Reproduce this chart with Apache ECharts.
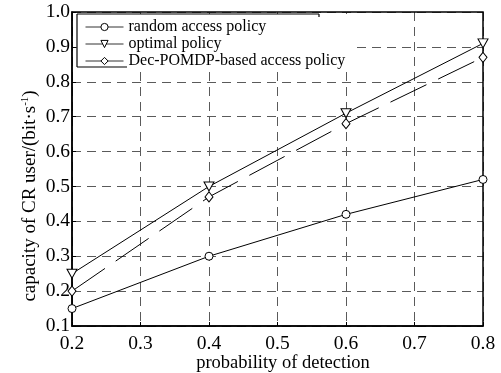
<!DOCTYPE html>
<html>
<head>
<meta charset="utf-8">
<script src="https://cdn.jsdelivr.net/npm/echarts@6/dist/echarts.min.js"></script>
<style>
html,body{margin:0;padding:0;background:#fff;}
#chart{width:501px;height:373px;}
</style>
</head>
<body>
<div id="chart"></div>
<script>
var xValues = [0.2, 0.4, 0.6, 0.8];
var randomPolicy = [0.15, 0.30, 0.42, 0.52];
var optimalPolicy = [0.25, 0.50, 0.71, 0.91];
var decPolicy = [0.20, 0.47, 0.68, 0.87];
var seriesNames = ['random access policy', 'optimal policy', 'Dec-POMDP-based access policy'];
var xAxisTitle = 'probability of detection';
var yAxisTitle = 'capacity of CR user/(bit·s';

function pairs(vals) { return xValues.map(function (x, i) { return [x, vals[i]]; }); }

var FONT = 'Liberation Serif';
var chart = echarts.init(document.getElementById('chart'), null, {renderer: 'canvas'});
var gridStyle = {show: true, lineStyle: {color: '#5a5a5a', type: [9, 6], width: 1}};
var option = {
  animation: false,
  backgroundColor: '#fff',
  grid: {left: 72, right: 18, top: 12, bottom: 47, show: true, borderColor: '#000', borderWidth: 1.5, z: 5,
    outerBoundsMode: 'none', containLabel: false},
  xAxis: [{
    type: 'value', min: 0.2, max: 0.8, interval: 0.1,
    name: xAxisTitle, nameLocation: 'middle', nameGap: 28, nameMoveOverlap: false,
    nameTextStyle: {fontFamily: FONT, fontSize: 18.5, color: '#000', padding: [0, 0, 0, 11]},
    axisLine: {show: true, onZero: false, lineStyle: {color: '#000', width: 1.5}},
    axisTick: {show: true, inside: true, length: 4, lineStyle: {color: '#000'}},
    axisLabel: {fontFamily: FONT, fontSize: 19.5, color: '#000', margin: 8,
      formatter: function (v) { return v.toFixed(1); }},
    splitLine: gridStyle
  }],
  yAxis: [{
    type: 'value', min: 0.1, max: 1.0, interval: 0.1,
    axisLine: {show: true, onZero: false, lineStyle: {color: '#000', width: 1.5}},
    axisTick: {show: true, inside: true, length: 4, lineStyle: {color: '#000'}},
    axisLabel: {fontFamily: FONT, fontSize: 19.5, color: '#000', margin: 2,
      formatter: function (v) { return v.toFixed(1); }},
    splitLine: gridStyle
  }],
  legend: {
    orient: 'vertical', left: 77, top: 14,
    padding: [5, 9, 0, 8],
    backgroundColor: '#fff',
    itemWidth: 38, itemHeight: 9, itemGap: 1,
    textStyle: {fontFamily: FONT, fontSize: 16, color: '#000', lineHeight: 16},
    lineStyle: {type: 'solid', width: 1, color: '#333'},
    itemStyle: {color: '#fff', borderColor: '#000', borderWidth: 1},
    data: seriesNames,
    z: 20
  },
  graphic: [
    {type: 'line', z: 100, shape: {x1: 77, y1: 14, x2: 77, y2: 67}, style: {stroke: '#000', lineWidth: 1.2}},
    {type: 'line', z: 100, shape: {x1: 77, y1: 14, x2: 319, y2: 14}, style: {stroke: '#000', lineWidth: 1.2}},
    {type: 'line', z: 100, shape: {x1: 319, y1: 14, x2: 319, y2: 17}, style: {stroke: '#000', lineWidth: 1.2}},
    {type: 'line', z: 100, shape: {x1: 77, y1: 67, x2: 127, y2: 67}, style: {stroke: '#000', lineWidth: 1.2}},
    {type: 'text', z: 100, x: 30, y: 196, rotation: Math.PI / 2,
      style: {text: yAxisTitle + '{sup|-1}' + ')', fontFamily: FONT, fontSize: 19, fill: '#000',
        align: 'center', verticalAlign: 'middle', lineHeight: 20,
        rich: {sup: {fontFamily: FONT, fontSize: 11, verticalAlign: 'top', lineHeight: 20, fill: '#000'}}}}
  ],
  series: [
    {name: seriesNames[0], type: 'line', data: pairs(randomPolicy), symbol: 'circle', symbolSize: 8,
      lineStyle: {color: '#000', width: 1}, itemStyle: {color: '#fff', borderColor: '#000', borderWidth: 1}, z: 10},
    {name: seriesNames[1], type: 'line', data: pairs(optimalPolicy), symbol: 'triangle', symbolRotate: 180, symbolSize: [10, 9],
      lineStyle: {color: '#000', width: 1}, itemStyle: {color: '#fff', borderColor: '#000', borderWidth: 1}, z: 10},
    {name: seriesNames[2], type: 'line', data: pairs(decPolicy), symbol: 'diamond', symbolSize: [8, 10],
      lineStyle: {color: '#000', width: 1, type: [40, 13]}, itemStyle: {color: '#fff', borderColor: '#000', borderWidth: 1}, z: 10}
  ]
};
chart.setOption(option);
</script>
</body>
</html>
